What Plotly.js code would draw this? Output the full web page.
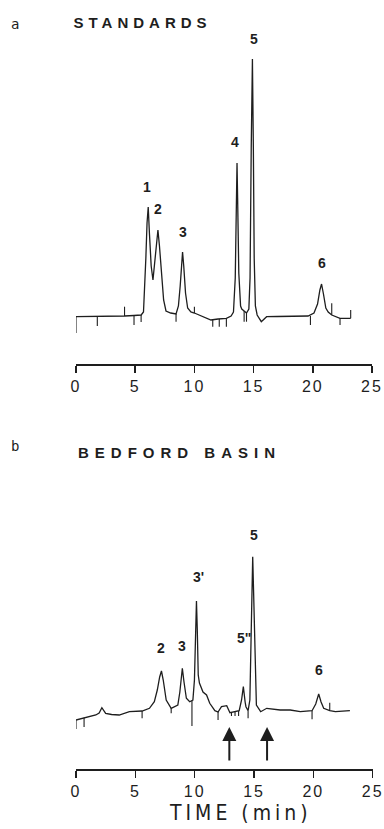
<!DOCTYPE html>
<html>
<head>
<meta charset="utf-8">
<script src="https://cdn.plot.ly/plotly-3.0.1.min.js"></script>
<style>
  html, body { margin:0; padding:0; background:#fff; }
  #chart { width:384px; height:829px; }
  .xtick text, .x2tick text { letter-spacing: 2px; }
</style>
</head>
<body>
<div id="chart"></div>
<script>
// ---- Panel a: STANDARDS (time in min, detector response in arbitrary units) ----
const timeA = [0,1.8,3.0,4.1,4.9,5.5,5.7,5.8,5.9,6.0,6.1,6.2,6.35,6.5,6.65,6.8,6.92,7.05,7.2,7.4,7.6,8.0,8.45,8.65,8.8,8.9,9.0,9.1,9.25,9.43,9.7,10.0,10.6,11.4,12.0,12.7,13.1,13.3,13.45,13.55,13.6,13.65,13.75,13.9,14.0,14.2,14.4,14.6,14.7,14.8,14.9,14.98,15.05,15.15,15.3,15.65,16.1,17,18,19,19.6,20.1,20.4,20.6,20.74,20.9,21.1,21.3,21.6,22.3,23.2];
const respA = [1.3,1.3,1.6,2,2.5,3,6,28,60,95,111,85,52,38,55,78,88,72,45,18,7,5,4,12,32,52,66,52,25,10,6,5,2,-2,-1,-0.3,2,6,40,120,155,120,45,12,9,7,5,9,40,170,259,170,60,12,3,-3.7,1.3,1.5,1.8,2,2,5,14,28,34,24,10,6,3,-0.3,-0.3];
// integrator event marks (time, from, to)
const markTimeA = [0,1.8,4.1,4.9,5.5,8.45,10.0,11.55,12.1,12.7,14.2,14.4,19.8,21.6,22.3,23.2];
const markFromA = [1.3,1.3,2,2.5,3,4,5,-1.5,-1,-0.3,7,5,2,3,-0.3,-0.3];
const markToA   = [-15,-8,11.3,-7,-4,-3.7,11.3,-8.7,-8.7,-8.7,-3.7,-3.7,-7,14.7,-7,8];
const peakLabelsA = ["1","2","3","4","5","6"];
const peakLabelTimeA = [5.96,6.95,9.0,13.47,15.0,20.8];
const peakLabelRespA = [131,108.7,86.3,176.3,279,55.3];

// ---- Panel b: BEDFORD BASIN ----
const timeB = [0,0.68,1.67,1.95,2.18,2.5,3.0,3.64,4.5,5.57,6.19,6.6,6.85,7.05,7.2,7.35,7.6,8.02,8.58,8.75,8.88,8.96,9.1,9.3,9.58,9.85,9.98,10.08,10.15,10.22,10.3,10.4,10.7,11.0,11.27,11.7,11.97,12.26,12.7,12.97,13.4,13.75,13.95,14.1,14.25,14.32,14.5,14.65,14.75,14.82,14.89,14.96,15.08,15.2,15.56,16.07,17.2,18.05,18.9,19.89,20.2,20.45,20.65,20.87,21.38,21.86,23.08];
const respB = [0,2.3,5,7,12.3,6.7,5.5,5,8.3,9,11.7,18.3,30,43,49,40,20,11.7,15,28,45,51.7,38,21.7,18.3,20,40,90,119,90,45,37,28,25,16.7,9.3,8,13.3,14.3,7.3,8,9.3,20,33.3,18,13.3,9.3,20,80,130,163.3,130,54,15,8.3,11.7,10,10,8.3,9.3,16,26,18,11.7,9.3,8.3,9.3];
const markTimeB = [0,0.68,5.57,8.02,9.77,11.97,13.1,13.4,13.7,14.5,19.89,21.38];
const markFromB = [0,2.3,9,11.7,19,8.5,8,8,9,9.3,9.3,9.3];
const markToB   = [-9,-7,1.7,6.7,-6,0,4,4,4,1.7,0.7,17.3];
const peakLabelsB = ["2","3","3'","5\"","5","6"];
const peakLabelTimeB = [7.17,8.96,10.28,14.18,15.0,20.45];
const peakLabelRespB = [71.7,74,143.3,81.7,185,50];
const arrowTimesB = [12.92,16.1];

const tickVals = [0,5,10,15,20,25];
const tickText = ["0","5","10","15","20","25"];

const INK = '#1e1e1e';

function segs(t, a, b) {
  const x = [], y = [];
  t.forEach((v, i) => { x.push(v, v, null); y.push(a[i], b[i], null); });
  return {x, y};
}
const mA = segs(markTimeA, markFromA, markToA);
const mB = segs(markTimeB, markFromB, markToB);

const data = [
  {x: timeA, y: respA, xaxis:'x', yaxis:'y', type:'scatter', mode:'lines', line:{color:INK, width:1.3}, hoverinfo:'skip'},
  {x: mA.x, y: mA.y, xaxis:'x', yaxis:'y', type:'scatter', mode:'lines', line:{color:INK, width:1.1}, hoverinfo:'skip'},
  {x: timeB, y: respB, xaxis:'x2', yaxis:'y2', type:'scatter', mode:'lines', line:{color:INK, width:1.3}, hoverinfo:'skip'},
  {x: mB.x, y: mB.y, xaxis:'x2', yaxis:'y2', type:'scatter', mode:'lines', line:{color:INK, width:1.1}, hoverinfo:'skip'}
];

const axisBase = {
  range:[0,25], tickvals:tickVals, ticktext:tickText, ticks:'outside', ticklen:7, tickwidth:1.5,
  tickcolor:INK, showline:true, linecolor:INK, linewidth:1.5, showgrid:false, zeroline:false,
  tickfont:{family:'Liberation Sans, Arial, sans-serif', size:16, color:INK}, fixedrange:true
};

const labelFont = {family:'Liberation Sans, Arial, sans-serif', size:14, color:INK, weight:'bold'};
const annotations = [];
peakLabelsA.forEach((s, i) => annotations.push({xref:'x', yref:'y', x:peakLabelTimeA[i], y:peakLabelRespA[i], text:s, showarrow:false, font:labelFont, xanchor:'center', yanchor:'middle'}));
peakLabelsB.forEach((s, i) => annotations.push({xref:'x2', yref:'y2', x:peakLabelTimeB[i], y:peakLabelRespB[i], text:s, showarrow:false, font:labelFont, xanchor:'center', yanchor:'middle'}));
arrowTimesB.forEach(t => annotations.push({xref:'x2', yref:'y2', axref:'x2', ayref:'y2', x:t, y:-7, ax:t, ay:-42, text:'', showarrow:true, arrowhead:2, arrowsize:1.4, arrowwidth:2, arrowcolor:INK}));

const titleFont = {family:'Liberation Sans, Arial, sans-serif', size:15, color:INK, weight:'bold'};
const letterFont = {family:'DejaVu Sans Mono, monospace', size:14, color:INK};
annotations.push({xref:'paper', yref:'paper', x:15/384, y:1-24/829, text:'a', showarrow:false, xanchor:'center', yanchor:'middle', font:letterFont});
annotations.push({xref:'paper', yref:'paper', x:142.5/384, y:1-22/829, text:'STANDARDS', showarrow:false, xanchor:'center', yanchor:'middle', font:titleFont});
annotations.push({xref:'paper', yref:'paper', x:15/384, y:1-446/829, text:'b', showarrow:false, xanchor:'center', yanchor:'middle', font:letterFont});
annotations.push({xref:'paper', yref:'paper', x:179/384, y:1-452/829, text:'BEDFORD BASIN', showarrow:false, xanchor:'center', yanchor:'middle', font:titleFont});
annotations.push({xref:'paper', yref:'paper', x:240/384, y:1-813/829, text:'TIME (min)', showarrow:false, xanchor:'center', yanchor:'middle', borderpad:0, font:{family:'DejaVu Sans Condensed, Liberation Sans Narrow, Arial Narrow, sans-serif', size:21, color:INK}});

const layout = {
  width:384, height:829, margin:{l:0, r:0, t:0, b:0},
  paper_bgcolor:'#fff', plot_bgcolor:'#fff', showlegend:false,
  xaxis: Object.assign({}, axisBase, {domain:[76/384, 372/384], anchor:'y'}),
  yaxis: {domain:[1-364/829, 1-30/829], range:[-46, 288], visible:false, fixedrange:true},
  xaxis2: Object.assign({}, axisBase, {domain:[76/384, 372.7/384], anchor:'y2'}),
  yaxis2: {domain:[1-769/829, 1-530/829], range:[-49, 190], visible:false, fixedrange:true},
  annotations: annotations
};

Plotly.newPlot('chart', data, layout, {staticPlot:true, displayModeBar:false}).then(() => {
  document.querySelectorAll('.annotation-text').forEach(el => {
    const t = el.textContent;
    if (t === 'STANDARDS') el.style.letterSpacing = '5px';
    if (t === 'BEDFORD BASIN') el.style.letterSpacing = '6px';
    if (t === 'TIME (min)') el.style.letterSpacing = '4px';
  });
});
</script>
</body>
</html>
